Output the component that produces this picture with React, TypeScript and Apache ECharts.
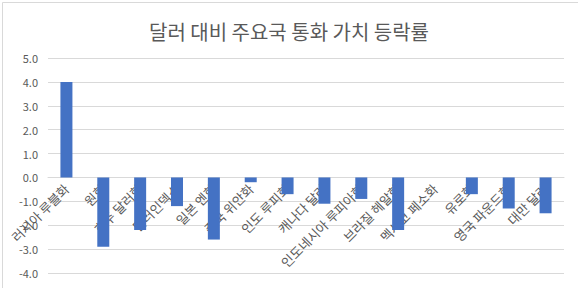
import React, { useEffect, useRef } from "react";
import * as echarts from "echarts";

const title = "달러 대비 주요국 통화 가치 등락률";
const categories = [
  "러시아 루블화",
  "원화",
  "호주 달러화",
  "달러인덱스",
  "일본 엔화",
  "중국 위안화",
  "인도 루피화",
  "캐나다 달러",
  "인도네시아 루피아화",
  "브라질 헤알화",
  "멕시코 페소화",
  "유로화",
  "영국 파운드화",
  "대만 달러",
];
const values = [4.0, -2.9, -2.2, -1.2, -2.6, -0.2, -0.7, -1.1, -0.9, -2.2, 0, -0.7, -1.3, -1.5];
const yMin = -4;
const yMax = 5;
const yStep = 1;

const FONT = "'Noto Sans CJK KR', 'Noto Sans', sans-serif";
const W = 578;
const H = 288;
const GRID = { left: 48, right: 14, top: 58, bottom: 15 };

export default function App() {
  const ref = useRef<HTMLDivElement>(null);
  useEffect(() => {
    document.body.style.margin = "0";
    const chart = echarts.init(ref.current!, null, { renderer: "svg" });
    const gridH = H - GRID.top - GRID.bottom;
    const zeroOffset = -gridH * (0 - yMin) / (yMax - yMin);
    chart.setOption({
      animation: false,
      backgroundColor: "#ffffff",
      title: {
        text: title,
        left: "center",
        top: 16,
        textStyle: { fontFamily: FONT, fontSize: 20, fontWeight: "normal", color: "#595959" },
      },
      graphic: [
        {
          type: "rect",
          left: 0,
          top: 0,
          shape: { x: 0.5, y: 0.5, width: W - 1, height: H - 1 },
          style: { fill: "none", stroke: "#d9d9d9", lineWidth: 1 },
          silent: true,
        },
      ],
      grid: { ...GRID, containLabel: false, outerBoundsMode: "none" },
      xAxis: {
        type: "category",
        data: categories,
        position: "bottom",
        offset: zeroOffset,
        axisLine: { show: true, onZero: false, lineStyle: { color: "#d9d9d9" } },
        axisTick: { show: false },
        axisLabel: {
          interval: 0,
          rotate: 45,
          margin: 9,
          hideOverlap: false,
          fontFamily: FONT,
          fontSize: 13,
          color: "#595959",
        },
      },
      yAxis: {
        type: "value",
        min: yMin,
        max: yMax,
        interval: yStep,
        axisLine: { show: false },
        axisTick: { show: false },
        splitLine: { lineStyle: { color: "#d9d9d9" } },
        axisLabel: {
          formatter: (v: number) => v.toFixed(1),
          fontFamily: FONT,
          fontSize: 11,
          color: "#595959",
          margin: 10,
        },
      },
      series: [
        {
          type: "bar",
          data: values,
          barWidth: 12,
          itemStyle: { color: "#4472C4" },
        },
      ],
    });
    return () => chart.dispose();
  }, []);
  return <div ref={ref} style={{ width: W, height: H }} />;
}
